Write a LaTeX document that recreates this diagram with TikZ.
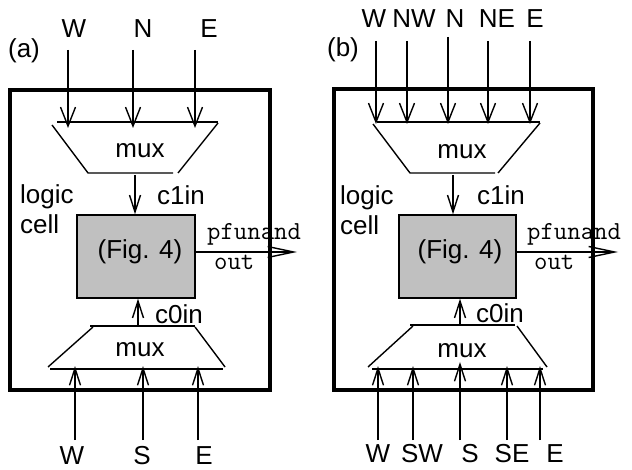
\documentclass[tikz,border=0pt]{standalone}
\usepackage{fontspec}
\setmainfont{Liberation Sans}
\usetikzlibrary{arrows.meta}
\tikzset{
  every node/.style={inner sep=0pt, font=\fontsize{26}{30}\selectfont},
  ln/.style={line width=1.4pt},
  frame/.style={line width=3.6pt},
  inarr/.style={ln, -{Straight Barb[length=19pt,width=15pt]}},
  carr/.style={ln, -{Straight Barb[length=17pt,width=11pt]}},
  outarr/.style={ln, -{Straight Barb[length=26pt,width=11pt]}},
  figbox/.style={draw, ln, fill={rgb,255:red,192;green,192;blue,192}},
  mono/.style={font=\ttfamily\fontsize{26}{30}\selectfont},
  lbl/.style={anchor=base west, align=left}
}
\begin{document}
\begin{tikzpicture}[x=1pt,y=-1pt]
\useasboundingbox (0,0) rectangle (632,470);

% ================= panel (a) =================
\node (alab) at (24,51) {(a)};
\node (aWl) at (74,29) {W};
\node (aNl) at (143,29) {N};
\node (aEl) at (209,29) {E};
\foreach \n/\x in {W/68,N/133,E/195}{
  \coordinate (at\n s) at (\x,50);
  \coordinate (at\n e) at (\x,128);
  \draw[inarr] (at\n s) -- (at\n e);
}
% top mux
\draw[ln] (57,122) -- (218,122);
\draw[ln] (52,125) -- (88,173) -- (173,173);
\draw[ln] (218,123) -- (178,173);
\node (amux1) at (140,151) {mux};
% logic cell text
\node[lbl] (alog) at (20,204) {logic};
\node[lbl] (acell) at (20,234) {cell};
% function box
\node[figbox, minimum width=118pt, minimum height=83pt] (afig) at (136,256.5) {};
\node (afigt) at (140,252) {(Fig. 4)};
% c1in
\coordinate (ac1s) at (135,175);
\draw[carr] (ac1s) -- (ac1s |- afig.north);
\node (ac1l) at (181,195) {c1in};
% output
\coordinate (aout) at (297,252);
\draw[outarr] (afig.east |- aout) -- (aout);
\node[mono, anchor=base west] (apf) at (207,240) {pfunand};
\node[mono, anchor=base west] (aou) at (214,270) {out};
% bottom mux
\draw[ln] (90,326) -- (195,326);
\draw[ln] (48,367) -- (93,327);
\draw[ln] (195,327) -- (225,367);
\draw[ln] (50,369) -- (223,369);
\node (amux0) at (140,350) {mux};
% c0in
\coordinate (ac0s) at (138,326);
\draw[carr] (ac0s) -- (ac0s |- afig.south);
\node (ac0l) at (179,314) {c0in};
% bottom inputs
\foreach \n/\x in {W/75,S/143,E/198}{
  \coordinate (ab\n s) at (\x,440);
  \coordinate (ab\n e) at (\x,366);
  \draw[carr] (ab\n s) -- (ab\n e);
}
\node (abWl) at (72,456) {W};
\node (abSl) at (142,456) {S};
\node (abEl) at (204,456) {E};
% frame
\draw[frame] (10,90) rectangle (270,390);

% ================= panel (b) =================
\node (blab) at (343,50) {(b)};
\node (bWl) at (374,19) {W};
\node (bNWl) at (414,19) {NW};
\node (bNl) at (455,19) {N};
\node (bNEl) at (497,19) {NE};
\node (bEl) at (535,19) {E};
\foreach \n/\x/\t in {W/376/41,NW/407/41,N/448/37,NE/488/41,E/530/41}{
  \coordinate (bt\n s) at (\x,\t);
  \coordinate (bt\n e) at (\x,124);
  \draw[inarr] (bt\n s) -- (bt\n e);
}
% top mux
\draw[ln] (377,122) -- (540,122);
\draw[ln] (373,124) -- (410,173) -- (495,173);
\draw[ln] (540,123) -- (498,173);
\node (bmux1) at (462,152) {mux};
% logic cell text
\node[lbl] (blog) at (340,205) {logic};
\node[lbl] (bcell) at (340,235) {cell};
% function box
\node[figbox, minimum width=117pt, minimum height=83pt] (bfig) at (457.5,256.5) {};
\node (bfigt) at (460,252) {(Fig. 4)};
% c1in
\coordinate (bc1s) at (453,175);
\draw[carr] (bc1s) -- (bc1s |- bfig.north);
\node (bc1l) at (501,195) {c1in};
% output
\coordinate (bout) at (618,252);
\draw[outarr] (bfig.east |- bout) -- (bout);
\node[mono, anchor=base west] (bpf) at (527,240) {pfunand};
\node[mono, anchor=base west] (bou) at (534,270) {out};
% bottom mux
\draw[ln] (410,325) -- (515,325);
\draw[ln] (368,367) -- (413,326);
\draw[ln] (517,326) -- (547,367);
\draw[ln] (372,369) -- (543,369);
\node (bmux0) at (462,351) {mux};
% c0in
\coordinate (bc0s) at (460,326);
\draw[carr] (bc0s) -- (bc0s |- bfig.south);
\node (bc0l) at (500,313) {c0in};
% bottom inputs
\foreach \n/\x/\t in {W/378/366,SW/413/366,S/460/362,SE/507/366,E/540/366}{
  \coordinate (bb\n s) at (\x,440);
  \coordinate (bb\n e) at (\x,\t);
  \draw[carr] (bb\n s) -- (bb\n e);
}
\node (bbWl) at (378,454) {W};
\node (bbSWl) at (422,454) {SW};
\node (bbSl) at (470,454) {S};
\node (bbSEl) at (512,454) {SE};
\node (bbEl) at (555,454) {E};
% frame
\draw[frame] (334,89) rectangle (593,390);
\end{tikzpicture}
\end{document}
